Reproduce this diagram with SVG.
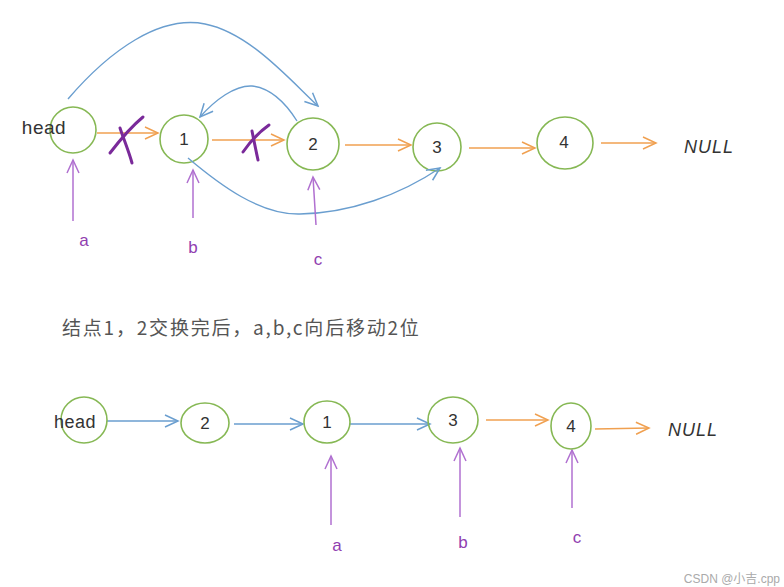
<svg xmlns="http://www.w3.org/2000/svg" width="784" height="587" viewBox="0 0 784 587">
<defs>
<marker id="ao" markerWidth="16" markerHeight="14" refX="14" refY="7" orient="auto" markerUnits="userSpaceOnUse"><path d="M1,1 L14,7 L1,13" fill="none" stroke="#f0a050" stroke-width="1.5"/></marker>
<marker id="ab" markerWidth="16" markerHeight="14" refX="14" refY="7" orient="auto" markerUnits="userSpaceOnUse"><path d="M1,1 L14,7 L1,13" fill="none" stroke="#6a9ecf" stroke-width="1.5"/></marker>
<marker id="ap" markerWidth="16" markerHeight="14" refX="14" refY="7" orient="auto" markerUnits="userSpaceOnUse"><path d="M1,1 L14,7 L1,13" fill="none" stroke="#b070d0" stroke-width="1.5"/></marker>
</defs>
<style>
.n{fill:none;stroke:#86b854;stroke-width:1.6}
.t{font-family:"Liberation Sans","DejaVu Sans",sans-serif;font-size:17px;fill:#333;text-anchor:middle}
.o{fill:none;stroke:#f0a050;stroke-width:1.5;marker-end:url(#ao)}
.b{fill:none;stroke:#6a9ecf;stroke-width:1.4;marker-end:url(#ab)}
.p{fill:none;stroke:#b070d0;stroke-width:1.5;marker-end:url(#ap)}
.l{font-family:"Liberation Sans","DejaVu Sans",sans-serif;font-size:17px;fill:#9040b0;text-anchor:middle}
.x{fill:none;stroke:#7a2a9a;stroke-width:3;stroke-linecap:round}
</style>
<rect width="784" height="587" fill="#fff"/>

<g id="top-head"><circle class="n" cx="73" cy="130" r="23"/><text class="t" x="44" y="134" style="font-size:19px;letter-spacing:0.5px">head</text></g>
<g id="top-n1"><circle class="n" cx="184" cy="139" r="24"/><text class="t" x="184" y="145">1</text></g>
<g id="top-n2"><circle class="n" cx="313" cy="144" r="26"/><text class="t" x="313" y="150">2</text></g>
<g id="top-n3"><circle class="n" cx="437" cy="147" r="24"/><text class="t" x="437" y="153">3</text></g>
<g id="top-n4"><ellipse class="n" cx="565" cy="143" rx="28" ry="26"/><text class="t" x="564" y="148">4</text></g>
<g id="top-null"><text class="t" x="709" y="153" style="font-style:italic;font-size:18px;letter-spacing:1px">NULL</text></g>
<g id="top-a"><text class="l" x="84" y="246">a</text></g>
<g id="top-b"><text class="l" x="193" y="253">b</text></g>
<g id="top-c"><text class="l" x="318" y="265">c</text></g>

<g id="connectors">
<path class="o" d="M97,133 L158,133"/>
<path class="o" d="M212,140 L284,140"/>
<path class="o" d="M345,145 L411,145"/>
<path class="o" d="M469,148 L535,148"/>
<path class="o" d="M601,143 L656,143"/>
<path class="b" d="M68,99 C110,50 160,15 205,24 C250,33 290,80 318,106"/>
<path class="b" d="M297,121 C285,102 270,88 252,86 C235,85 215,100 200,117"/>
<path class="b" d="M188,158 C220,185 260,215 300,214 C350,213 400,195 440,168"/>
<path class="p" d="M73,221 L73,160"/>
<path class="p" d="M193,218 L193,170"/>
<path class="p" d="M316,225 L313,177"/>
<path class="x" d="M110,153 C120,140 132,126 143,117"/>
<path class="x" d="M120,128 C124,140 129,152 132,163"/>
<path class="x" d="M243,152 C250,142 259,132 269,125"/>
<path class="x" d="M252,131 C254,141 256,151 258,160"/>
<path class="b" d="M107,421 L178,421"/>
<path class="b" d="M234,424 L303,424"/>
<path class="b" d="M350,424 L430,424"/>
<path class="o" d="M486,420 L548,420"/>
<path class="o" d="M595,429 L649,428"/>
<path class="p" d="M331,525 L331,456"/>
<path class="p" d="M460,517 L460,448"/>
<path class="p" d="M572,508 L572,450"/>
</g>

<g id="caption"><text x="62" y="335" style="font-family:'Noto Sans CJK SC','Liberation Sans',sans-serif;font-size:19px;letter-spacing:1.8px;fill:#555">结点1，2交换完后，a,b,c向后移动2位</text></g>

<g id="bot-head"><circle class="n" cx="84" cy="420" r="23"/><text class="t" x="75" y="428" style="font-size:18px;letter-spacing:0.5px">head</text></g>
<g id="bot-n2"><ellipse class="n" cx="205" cy="423" rx="24" ry="20"/><text class="t" x="205" y="429">2</text></g>
<g id="bot-n1"><ellipse class="n" cx="327" cy="422" rx="23" ry="21"/><text class="t" x="327" y="428">1</text></g>
<g id="bot-n3"><ellipse class="n" cx="453" cy="420" rx="25" ry="23"/><text class="t" x="453" y="426">3</text></g>
<g id="bot-n4"><ellipse class="n" cx="571" cy="426" rx="20" ry="23"/><text class="t" x="571" y="432">4</text></g>
<g id="bot-null"><text class="t" x="693" y="436" style="font-style:italic;font-size:18px;letter-spacing:1px">NULL</text></g>
<g id="bot-a"><text class="l" x="337" y="551">a</text></g>
<g id="bot-b"><text class="l" x="463" y="548">b</text></g>
<g id="bot-c"><text class="l" x="577" y="543">c</text></g>

<text x="780" y="583" style="font-family:'Liberation Sans','Noto Sans CJK SC',sans-serif;font-size:12px;fill:#aaa;text-anchor:end">CSDN @小吉.cpp</text>
</svg>
